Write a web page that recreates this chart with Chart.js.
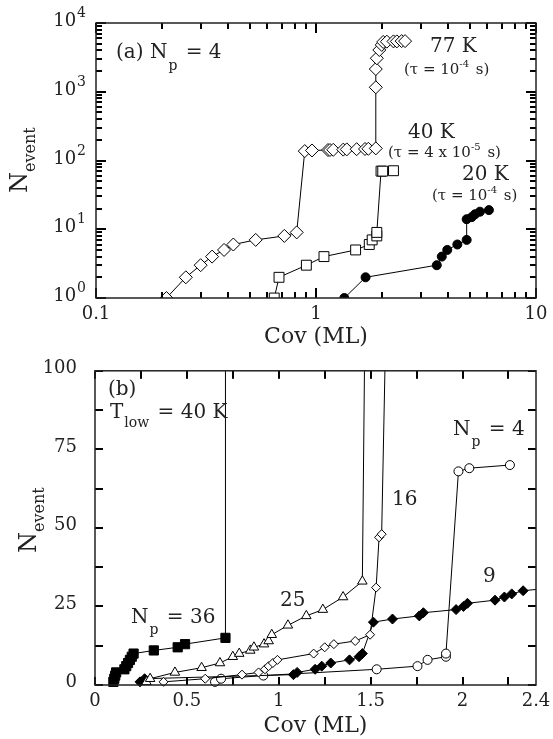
<!DOCTYPE html>
<html>
<head>
<meta charset="utf-8">
<script src="https://cdn.jsdelivr.net/npm/chart.js@4.4.0/dist/chart.umd.min.js"></script>
<style>
  body { margin: 0; background: #fff; }
  canvas { position: absolute; left: 0; }
  #chartA { top: 0; }
  #chartB { top: 350px; }
</style>
</head>
<body>
<canvas id="chartA" width="553" height="350"></canvas>
<canvas id="chartB" width="553" height="389"></canvas>
<script>
// ---- panel (a): N_p = 4, log-log ----
const cov77 = [0.209, 0.256, 0.299, 0.337, 0.382, 0.421, 0.532, 0.718, 0.817, 0.889, 0.959, 1.134, 1.158, 1.198, 1.33, 1.38, 1.53, 1.67, 1.73, 1.87, 1.87, 1.87, 1.89, 1.94, 1.99, 2.02, 2.10, 2.25, 2.33, 2.45, 2.54];
const nev77 = [1, 2, 3, 4, 5, 6, 7, 8, 9, 137, 140, 142, 142, 143, 144, 145, 146, 147, 148, 150, 1160, 2140, 3070, 4050, 4800, 5300, 5350, 5400, 5400, 5450, 5450];
const cov40 = [0.646, 0.679, 0.904, 1.087, 1.514, 1.746, 1.80, 1.89, 1.89, 1.975, 2.01, 2.25];
const nev40 = [1, 2, 3, 4, 5, 6, 7, 8, 9, 70, 70, 71];
const cov20 = [1.345, 1.68, 3.54, 3.73, 3.95, 4.39, 4.84, 4.84, 5.10, 5.28, 5.56, 6.11];
const nev20 = [1, 2, 3, 4, 5, 6, 7, 14, 15, 16.5, 18, 19];
const xTicksA = [0.1, 1, 10];
const yTicksA = [1, 10, 100, 1000, 10000];

// ---- panel (b): T_low = 40 K, linear ----
const covP36 = [0.10, 0.105, 0.11, 0.115, 0.16, 0.17, 0.18, 0.19, 0.20, 0.21, 0.32, 0.45, 0.49, 0.71, 0.71];
const nevP36 = [1, 2, 3, 4, 5, 6, 7, 8, 9, 10, 11, 12, 13, 15, 150];
const covP25 = [0.28, 0.30, 0.435, 0.58, 0.68, 0.75, 0.785, 0.845, 0.865, 0.92, 0.945, 0.962, 1.05, 1.15, 1.24, 1.35, 1.455, 1.475];
const nevP25 = [1, 2, 4, 5.5, 7, 9, 10, 11, 12, 13, 14, 16, 19, 22, 24, 28, 33, 150];
const covP16 = [0.373, 0.60, 0.80, 0.89, 0.925, 0.945, 0.968, 0.993, 1.19, 1.25, 1.30, 1.416, 1.497, 1.53, 1.546, 1.56, 1.595];
const nevP16 = [1, 2, 3.3, 4, 5, 6, 7, 8, 10, 12, 13, 14, 16, 31, 47, 48, 150];
const covP9 = [0.245, 0.27, 1.08, 1.10, 1.198, 1.234, 1.283, 1.385, 1.437, 1.455, 1.515, 1.619, 1.765, 1.787, 1.965, 2.005, 2.027, 2.177, 2.228, 2.268, 2.33, 2.5];
const nevP9 = [1, 2, 3.3, 4, 5, 6, 7, 8, 9, 10, 20, 21, 22, 23, 24, 25, 26, 27, 28, 29, 30, 31];
const covP4 = [0.653, 0.686, 0.916, 1.533, 1.755, 1.81, 1.91, 1.91, 1.978, 2.037, 2.258];
const nevP4 = [1, 2, 3, 5, 6, 8, 9, 10, 68, 69, 70];
const xTicksB = [0, 0.5, 1, 1.5, 2, 2.4];
const yTicksB = [0, 25, 50, 75, 100];

const FONT = '"DejaVu Serif", "Liberation Serif", serif';
const INK = '#222';

// minor/major tick marks, [value, length]
const logMarks = (lo, hi) => {
  const out = [];
  for (let e = lo; e <= hi; e++) {
    for (let k = 1; k <= 9; k++) {
      if (e === hi && k > 1) break;
      out.push([k * Math.pow(10, e), k === 1 ? 10 : 6]);
    }
  }
  return out;
};
const linMarks = (max, step) => {
  const out = [];
  for (let v = 0; v <= max + 1e-9; v += step) out.push([v, 8]);
  return out;
};
const marksAx = logMarks(-1, 1);
const marksAy = logMarks(0, 4);
const marksBx = linMarks(2.4, 0.25);
const marksBy = linMarks(100, 12.5);

const pts = (xs, ys) => xs.map((x, i) => ({ x: x, y: ys[i] }));

function series(xs, ys, style, radius, filled) {
  return {
    data: pts(xs, ys),
    showLine: true,
    borderColor: '#000',
    borderWidth: 1,
    pointStyle: style,
    pointRadius: c => (c.raw && c.raw.y > 100 && c.chart.canvas.id === 'chartB') ? 0 : radius,
    pointBackgroundColor: filled ? '#000' : '#fff',
    pointBorderColor: '#000',
    pointBorderWidth: 1,
  };
}

function rich(ctx, x, y, parts) {
  parts.forEach(p => {
    ctx.font = p[1] + 'px ' + FONT;
    ctx.fillText(p[0], x, y + (p[2] || 0));
    x += ctx.measureText(p[0]).width + (p[3] || 0);
  });
}

// inward tick marks on all four sides
function tickPlugin(xm, ym) {
  return {
    id: 'inticks',
    afterDraw(chart) {
      const ctx = chart.ctx, a = chart.chartArea, sx = chart.scales.x, sy = chart.scales.y;
      ctx.save();
      ctx.fillStyle = '#000';
      xm.forEach(t => {
        const px = Math.round(sx.getPixelForValue(t[0])) - 1;
        ctx.fillRect(px, a.bottom - t[1], 2, t[1]);
        ctx.fillRect(px, a.top, 2, t[1]);
      });
      ym.forEach(t => {
        const py = Math.round(sy.getPixelForValue(t[0])) - 1;
        ctx.fillRect(a.left, py, t[1], 2);
        ctx.fillRect(a.right - t[1], py, t[1], 2);
      });
      ctx.restore();
    }
  };
}

// frame, y title and annotations
function framePlugin(opts) {
  return {
    id: 'frame',
    afterDraw(chart) {
      const ctx = chart.ctx;
      const a = chart.chartArea;
      const sy = chart.scales.y;
      ctx.save();
      ctx.lineWidth = 1.5;
      ctx.strokeStyle = INK;
      ctx.strokeRect(a.left, a.top, a.right - a.left, a.bottom - a.top);

      ctx.fillStyle = INK;
      ctx.textBaseline = 'alphabetic';
      ctx.textAlign = 'left';
      opts.notes.forEach(n => rich(ctx, n[0], n[1], n[2]));

      // decade labels 10^n at the y scale's own tick positions
      if (opts.decades) {
        opts.decades.forEach(v => {
          const py = sy.getPixelForValue(v);
          const e = String(Math.round(Math.log10(v)));
          ctx.font = '18px ' + FONT;
          const w1 = ctx.measureText('10').width;
          ctx.font = '14px ' + FONT;
          const w2 = ctx.measureText(e).width;
          const x0 = a.left - 10 - w1 - w2 - 1;
          rich(ctx, x0, py + 3, [['10', 18, 0, 1], [e, 14, -9]]);
        });
      }

      // rotated y-axis title N_event
      ctx.translate(opts.yTitle[0], opts.yTitle[1]);
      ctx.rotate(-Math.PI / 2);
      rich(ctx, 0, 0, [['N', 24], ['event', 16, 8]]);
      ctx.restore();
    }
  };
}

function axisX(type, min, max, ticks, labelFn, height) {
  return {
    type: type, min: min, max: max,
    grid: { display: false }, border: { display: false },
    afterBuildTicks: s => { s.ticks = ticks.map(v => ({ value: v })); },
    afterFit: s => { s.height = height; },
    ticks: { autoSkip: false, maxRotation: 0, padding: -2, color: INK,
      font: { family: FONT, size: 18 }, callback: labelFn },
    title: { display: true, text: 'Cov (ML)', color: INK,
      font: { family: FONT, size: 22 }, padding: { top: 0, bottom: 0 } }
  };
}

function axisY(type, min, max, ticks, labelFn, width, off) {
  return {
    type: type, min: min, max: max,
    grid: { display: false }, border: { display: false },
    afterBuildTicks: s => { s.ticks = ticks.map(v => ({ value: v })); },
    afterFit: s => { s.width = width; },
    ticks: { autoSkip: false, padding: 10, color: INK, labelOffset: off,
      font: { family: FONT, size: 18 }, callback: labelFn }
  };
}

new Chart(document.getElementById('chartA'), {
  type: 'scatter',
  data: {
    datasets: [
      series(cov77, nev77, 'rectRot', 6.5, false),
      series(cov40, nev40, 'rect', 7, false),
      series(cov20, nev20, 'circle', 4.5, true),
    ]
  },
  options: {
    responsive: false,
    animation: false,
    layout: { padding: { top: 23, right: 17, left: 0, bottom: 0 } },
    plugins: { legend: { display: false }, tooltip: { enabled: false } },
    scales: {
      x: axisX('logarithmic', 0.1, 10, xTicksA, v => String(v), 52),
      y: axisY('logarithmic', 1, 10000, yTicksA, () => '', 96, 0)
    }
  },
  plugins: [tickPlugin(marksAx, marksAy), framePlugin({
    decades: yTicksA,
    yTitle: [27, 193],
    notes: [
      [116, 58, [['(a) N', 20, 0, 1], ['p', 14, 12, 2], [' = 4', 20]]],
      [430, 52, [['77 K', 20]]],
      [404, 74, [['(τ = 10', 15], ['-4', 10, -7, 2], [' s)', 15]]],
      [408, 138, [['40 K', 20]]],
      [388, 157, [['(τ = 4 x 10', 15], ['-5', 10, -7, 2], [' s)', 15]]],
      [462, 180, [['20 K', 20]]],
      [432, 200, [['(τ = 10', 15], ['-4', 10, -7, 2], [' s)', 15]]],
    ]
  })]
});

new Chart(document.getElementById('chartB'), {
  type: 'scatter',
  data: {
    datasets: [
      series(covP36, nevP36, 'rect', 6.5, true),
      series(covP25, nevP25, 'triangle', 5.5, false),
      series(covP16, nevP16, 'rectRot', 4.5, false),
      series(covP9, nevP9, 'rectRot', 5, true),
      series(covP4, nevP4, 'circle', 4.5, false),
    ].map(d => Object.assign(d, { clip: { left: 10, top: 0, right: 0, bottom: 10 } }))
  },
  options: {
    responsive: false,
    animation: false,
    layout: { padding: { top: 5, right: 17, left: 0, bottom: 0 } },
    plugins: { legend: { display: false }, tooltip: { enabled: false } },
    scales: {
      x: axisX('linear', 0, 2.4, xTicksB, v => String(v), 54),
      y: axisY('linear', 0, 100, yTicksB, v => String(v), 95, -2.5)
    }
  },
  plugins: [tickPlugin(marksBx, marksBy), framePlugin({
    yTitle: [36, 203],
    notes: [
      [108, 45, [['(b)', 20]]],
      [110, 68, [['T', 20, 0, 1], ['low', 14, 9, 2], [' = 40 K', 20]]],
      [453, 85, [['N', 20, 0, 1], ['p', 14, 11, 2], [' = 4', 20]]],
      [392, 155, [['16', 20]]],
      [483, 232, [['9', 20]]],
      [280, 256, [['25', 20]]],
      [131, 273, [['N', 20, 0, 1], ['p', 14, 11, 2], [' = 36', 20]]],
    ]
  })]
});
</script>
</body>
</html>
